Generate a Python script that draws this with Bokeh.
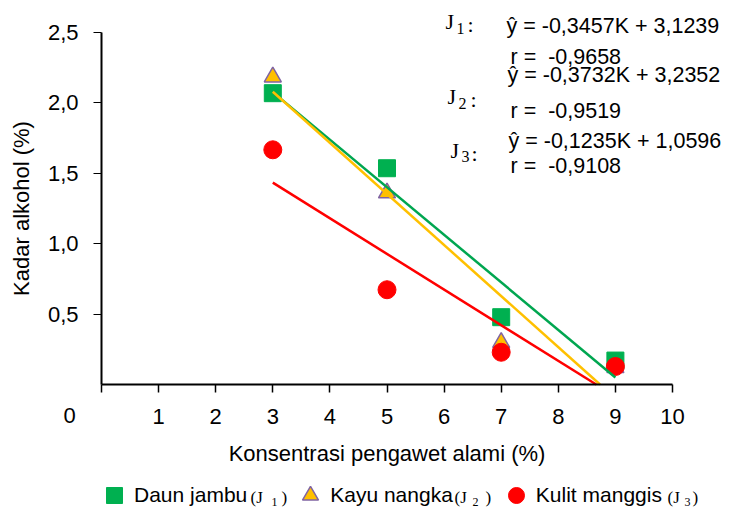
import numpy as np
from bokeh.plotting import figure
from bokeh.models import Range1d, FixedTicker, Label, Legend, LegendItem
from bokeh.embed import file_html
from bokeh.resources import INLINE

# ---------------- data ----------------
konsentrasi = [3, 5, 7, 9]
daun_jambu = [2.069, 1.536, 0.478, 0.170]
kayu_nangka = [2.184, 1.361, 0.298, 0.120]
kulit_manggis = [1.667, 0.673, 0.229, 0.128]

x_ticks = [0, 1, 2, 3, 4, 5, 6, 7, 8, 9, 10]
x_tick_labels = ["", "1", "2", "3", "4", "5", "6", "7", "8", "9", "10"]
y_ticks = [0.5, 1.0, 1.5, 2.0, 2.5]
y_tick_labels = ["0,5", "1,0", "1,5", "2,0", "2,5"]

series_names = ["Daun jambu", "Kayu nangka", "Kulit manggis"]
series_subs = ["1", "2", "3"]
equations = ["ŷ = -0,3457K + 3,1239", "ŷ = -0,3732K + 3,2352", "ŷ = -0,1235K + 1,0596"]
r_values = ["r =\u00a0 -0,9658", "r =\u00a0 -0,9519", "r =\u00a0 -0,9108"]

# ---------------- styles / layout ----------------
GREEN = "#00B050"
YELLOW = "#FFC000"
RED = "#FF0000"
PURPLE = "#8064A2"
SANS = "Liberation Sans"
SERIF = "Liberation Serif"

W, H = 728, 508
PAGE = 0                              # canvas origin on the page
AX_L, AX_R, AX_T, AX_B = 101, 672, 32, 384   # axis box in page px
XMAX, YMAX = 10, 2.5
SX = (AX_R - AX_L) / XMAX             # px per x unit
SY = (AX_B - AX_T) / YMAX             # px per y unit


def at(X, Y):
    """page pixel -> data coordinates (for text placement)"""
    return (X - AX_L) / SX, (AX_B - Y) / SY


def put(text, X, Y, font, size, align="left"):
    x, y = at(X, Y)
    p.add_layout(Label(x=x, y=y, text=text, text_font=font, text_font_size=size,
                       text_align=align, text_baseline="middle", text_color="black"))


# the frame fills the whole canvas so texts outside the axis box are not clipped
x_lo, y_hi = at(PAGE, PAGE)
x_hi, y_lo = at(PAGE + W, PAGE + H)

p = figure(width=W, height=H, x_range=Range1d(x_lo, x_hi), y_range=Range1d(y_lo, y_hi),
           output_backend="svg", toolbar_location=None,
           min_border_left=0, min_border_right=0, min_border_top=0, min_border_bottom=0)
p.title.visible = False
p.outline_line_color = None
p.xgrid.visible = False
p.ygrid.visible = False
p.background_fill_color = "white"
p.border_fill_color = "white"

xa = p.xaxis[0]
xa.fixed_location = 0
xa.bounds = (0, XMAX)
xa.ticker = FixedTicker(ticks=x_ticks)
xa.major_label_overrides = {t: l for t, l in zip(x_ticks, x_tick_labels)}
xa.axis_line_width = 2
xa.axis_line_color = "black"
xa.major_tick_in = 0
xa.major_tick_out = 8
xa.major_tick_line_width = 1.5
xa.minor_tick_line_color = None
xa.major_label_text_font = SANS
xa.major_label_text_font_size = "22px"
xa.major_label_text_color = "black"
xa.major_label_standoff = 16
xa.axis_label = "Konsentrasi pengawet alami (%)"
xa.axis_label_text_font = SANS
xa.axis_label_text_font_size = "22px"
xa.axis_label_text_font_style = "normal"
xa.axis_label_text_color = "black"
xa.axis_label_standoff = 14

ya = p.yaxis[0]
ya.fixed_location = 0
ya.bounds = (0, YMAX)
ya.ticker = FixedTicker(ticks=y_ticks)
ya.major_label_overrides = {t: l for t, l in zip(y_ticks, y_tick_labels)}
ya.axis_line_width = 2
ya.axis_line_color = "black"
ya.major_tick_in = 0
ya.major_tick_out = 8
ya.major_tick_line_width = 1
ya.minor_tick_line_color = None
ya.major_label_text_font = SANS
ya.major_label_text_font_size = "22px"
ya.major_label_text_color = "black"
ya.major_label_standoff = 15
ya.axis_label = "Kadar alkohol (%)"
ya.axis_label_text_font = SANS
ya.axis_label_text_font_size = "22px"
ya.axis_label_text_font_style = "normal"
ya.axis_label_text_color = "black"
ya.axis_label_standoff = 11

# markers
r_sq = p.scatter(konsentrasi, daun_jambu, marker="square", size=17,
                 fill_color=GREEN, line_color=GREEN)
r_tri = p.scatter(konsentrasi, kayu_nangka, marker="triangle", size=17,
                  fill_color=YELLOW, line_color=PURPLE, line_width=1.5)
r_cir = p.scatter(konsentrasi, kulit_manggis, marker="circle", size=18,
                  fill_color=RED, line_color=RED)

# linear trend lines (least squares on the data), stopped where they reach 0
for ys, col in [(daun_jambu, "#00A650"), (kayu_nangka, YELLOW), (kulit_manggis, RED)]:
    slope, icpt = np.polyfit(konsentrasi, ys, 1)
    x_start = min(konsentrasi)
    x_end = max(konsentrasi)
    if slope * x_end + icpt < 0:
        x_end = -icpt / slope
    xx = [x_start, x_end]
    p.line(xx, [slope * v + icpt for v in xx], line_color=col, line_width=2.5)

# "0" label at the origin
put("0", 69, 415, SANS, "22px", align="center")

# regression annotations (vertical centres)
eq_pos = [(506, 25.5), (507, 74), (508, 140)]
r_pos = [(510, 56.5), (510, 110.5), (510, 165)]
for t, (X, Y) in zip(equations, eq_pos):
    put(t, X, Y, SANS, "21.5px")
for t, (X, Y) in zip(r_values, r_pos):
    put(t, X, Y, SANS, "21.5px")

# J labels (Times) with subscripts: J centre, subscript centre, colon
j_pos = [(445, 21.3, 456, 27.5, 467), (447, 95.5, 458, 103, 470), (450, 149.5, 461, 156, 471)]
for sub, (jx, jy, sx, sy, cx) in zip(series_subs, j_pos):
    put("J", jx, jy, SERIF, "22px")
    put(sub, sx, sy, SERIF, "16px")
    put(":", cx, jy + 3, SERIF, "22px")

# legend (location relative to the frame's bottom-left corner)
LEG_X, LEG_CY, LEG_G = 94, 494.5, 40
legend = Legend(items=[LegendItem(label=n, renderers=[r]) for n, r in zip(series_names, [r_sq, r_tri, r_cir])],
                orientation="horizontal",
                location=(LEG_X - PAGE, (PAGE + H) - (LEG_CY + LEG_G / 2)),
                glyph_width=LEG_G, glyph_height=LEG_G, label_standoff=0, spacing=43,
                padding=0, margin=0, border_line_color=None, background_fill_alpha=0,
                label_text_font=SANS, label_text_font_size="21px", label_text_color="black")
p.add_layout(legend)

# legend suffixes "(J_n )"
suf_pos = [(250, 271, 281), (454, 472, 485), (667, 684, 692)]
for sub, (Xa, Xb, Xc) in zip(series_subs, suf_pos):
    put("(J", Xa, 497, SERIF, "17px")
    put(sub, Xb, 501, SERIF, "12px")
    put(")", Xc, 497, SERIF, "17px")

open("out.html", "w").write(file_html(p, INLINE))
